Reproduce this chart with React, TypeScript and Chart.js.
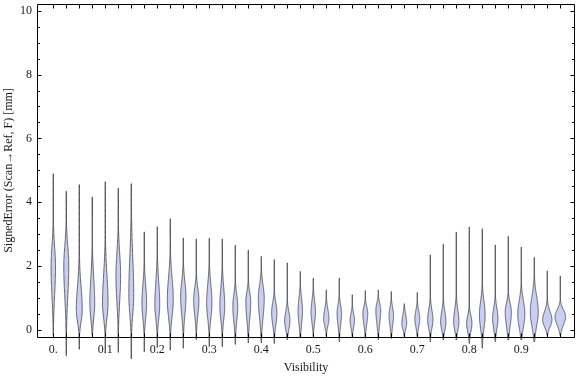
import React, { useEffect, useRef } from "react";
import { Chart, registerables } from "chart.js";

Chart.register(...registerables);

// Visibility bins (x positions of the violins)
const visibility = [
  0, 0.025, 0.05, 0.075, 0.1, 0.125, 0.15, 0.175, 0.2, 0.225,
  0.25, 0.275, 0.3, 0.325, 0.35, 0.375, 0.4, 0.425, 0.45, 0.475,
  0.5, 0.525, 0.55, 0.575, 0.6, 0.625, 0.65, 0.675, 0.7, 0.725,
  0.75, 0.775, 0.8, 0.825, 0.85, 0.875, 0.9, 0.925, 0.95, 0.975,
];

// Lowest signed error of each bin [mm]
const minErr = [
  -0.15, -0.8, -0.6, -0.15, -0.72, -0.7, -0.9, -0.68, -0.55, -0.63,
  -0.57, -0.3, -0.52, -0.52, -0.45, -0.4, -0.4, -0.42, -0.3, -0.25,
  -0.2, -0.2, -0.36, -0.22, -0.26, -0.3, -0.26, -0.2, -0.2, -0.37,
  -0.31, -0.31, -0.42, -0.57, -0.36, -0.31, -0.3, -0.36, -0.16, -0.16,
];

// Highest signed error of each bin [mm]
const maxErr = [
  4.89, 4.34, 4.55, 4.16, 4.64, 4.44, 4.58, 3.07, 3.23, 3.48,
  2.88, 2.85, 2.87, 2.85, 2.65, 2.5, 2.3, 2.2, 2.1, 1.83,
  1.62, 1.25, 1.62, 1.1, 1.23, 1.25, 1.2, 0.82, 1.17, 2.35,
  2.68, 3.06, 3.22, 3.17, 2.66, 2.93, 2.59, 2.27, 1.85, 1.69,
];

// Most frequent signed error (widest point of each violin) [mm]
const modeErr = [
  1.98, 2.0, 0.63, 0.84, 0.85, 1.7, 1.1, 0.84, 0.8, 0.94,
  1.05, 0.94, 0.84, 0.75, 0.75, 0.9, 1.0, 0.55, 0.3, 0.6,
  0.57, 0.36, 0.52, 0.31, 0.52, 0.63, 0.47, 0.21, 0.36, 0.31,
  0.26, 0.26, 0.21, 0.47, 0.37, 0.57, 0.5, 0.57, 0.31, 0.42,
];

// Lower end of the dense part of each distribution [mm]
const bodyLow = [
  0.21, 0.1, -0.1, -0.1, -0.1, 0.1, -0.1, -0.1, -0.1, -0.1,
  -0.1, 0.0, -0.1, -0.1, -0.2, -0.2, -0.2, -0.2, -0.26, -0.2,
  -0.1, -0.1, -0.21, -0.16, -0.16, -0.21, -0.21, -0.16, -0.16, -0.21,
  -0.26, -0.26, -0.31, -0.36, -0.31, -0.31, -0.31, -0.31, -0.1, -0.1,
];

// Upper end of the dense part of each distribution [mm]
const bodyHigh = [
  3.24, 3.24, 2.09, 2.4, 2.6, 3.1, 3.45, 1.98, 2.2, 2.3,
  1.98, 1.67, 1.98, 1.88, 1.46, 1.46, 1.78, 1.15, 0.84, 1.36,
  1.25, 0.94, 1.04, 0.73, 0.94, 1.04, 0.94, 0.73, 0.84, 0.94,
  0.89, 0.99, 0.68, 1.31, 0.99, 1.1, 1.31, 1.52, 0.84, 0.84,
];

// Relative peak density of each bin (1 = widest violin)
const peakDensity = [
  0.42, 0.47, 0.56, 0.46, 0.52, 0.44, 0.46, 0.44, 0.46, 0.56,
  0.5, 0.5, 0.5, 0.46, 0.46, 0.46, 0.56, 0.5, 0.5, 0.42,
  0.42, 0.5, 0.42, 0.42, 0.46, 0.46, 0.42, 0.46, 0.46, 0.5,
  0.5, 0.5, 0.5, 0.54, 0.5, 0.58, 0.67, 0.75, 0.88, 1.0,
];

const xTickValues = [0, 0.1, 0.2, 0.3, 0.4, 0.5, 0.6, 0.7, 0.8, 0.9];
const xTickLabels = ["0.", "0.1", "0.2", "0.3", "0.4", "0.5", "0.6", "0.7", "0.8", "0.9"];
const yTickValues = [0, 2, 4, 6, 8, 10];
const yMinorStep = 0.5;

const xTitle = "Visibility";
const yTitle = "SignedError (Scan\u2192Ref, F) [mm]";

const FONT = "'Liberation Serif', 'DejaVu Serif', serif";
const MAX_HALF_WIDTH = 0.0102; // in x-axis units, for density 1

type Violin = {
  x: number; y: number; min: number; max: number; lo: number; hi: number; d: number;
};

const violins: Violin[] = visibility.map((v, i) => ({
  x: v,
  y: modeErr[i],
  min: minErr[i],
  max: maxErr[i],
  lo: bodyLow[i],
  hi: bodyHigh[i],
  d: peakDensity[i],
}));

const violinPlugin = {
  id: "violins",
  afterDatasetsDraw(chart: any) {
    const { ctx, scales } = chart;
    const xs = scales.x;
    const ys = scales.y;
    const data = chart.data.datasets[0].data as Violin[];
    ctx.save();
    for (const p of data) {
      const cx = xs.getPixelForValue(p.x);
      const halfPx = xs.getPixelForValue(p.x + p.d * MAX_HALF_WIDTH) - cx;
      const n = 140;
      const right: [number, number][] = [];
      for (let k = 0; k <= n; k++) {
        const v = p.min + ((p.max - p.min) * k) / n;
        let t;
        if (v < p.y) t = (p.y - v) / Math.max(1e-6, p.y - p.lo);
        else t = (v - p.y) / Math.max(1e-6, p.hi - p.y);
        let w = halfPx * Math.exp(-2 * t * t);
        w = Math.max(w, 0.2);
        right.push([w, ys.getPixelForValue(v)]);
      }
      ctx.beginPath();
      right.forEach(([w, py], k) => {
        if (k === 0) ctx.moveTo(cx + w, py);
        else ctx.lineTo(cx + w, py);
      });
      for (let k = right.length - 1; k >= 0; k--) {
        const [w, py] = right[k];
        ctx.lineTo(cx - w, py);
      }
      ctx.closePath();
      ctx.fillStyle = "rgb(200,207,242)";
      ctx.fill();
      ctx.lineWidth = 0.9;
      ctx.strokeStyle = "rgba(50,50,55,0.8)";
      ctx.stroke();
    }
    ctx.restore();
  },
};

const framePlugin = {
  id: "frame",
  afterDraw(chart: any) {
    const { ctx, chartArea: a, scales } = chart;
    const xs = scales.x;
    const ys = scales.y;
    const L = Math.round(a.left) + 0.5;
    const R = Math.round(a.right) - 0.5;
    const T = Math.round(a.top) + 0.5;
    const B = Math.round(a.bottom) + 0.5;
    ctx.save();
    ctx.strokeStyle = "#000";
    ctx.lineWidth = 1;
    ctx.beginPath();
    ctx.rect(L, T, R - L, B - T);
    ctx.stroke();
    ctx.beginPath();
    for (const v of visibility) {
      const px = Math.round(xs.getPixelForValue(v)) + 0.5;
      ctx.moveTo(px, B);
      ctx.lineTo(px, B - 4);
      ctx.moveTo(px, T);
      ctx.lineTo(px, T + 4);
    }
    const yMax = yTickValues[yTickValues.length - 1];
    for (let v = yTickValues[0]; v <= yMax + 1e-9; v += yMinorStep) {
      const major = yTickValues.some((m) => Math.abs(m - v) < 1e-9);
      const len = major ? 4 : 2.5;
      const py = Math.round(ys.getPixelForValue(v)) + 0.5;
      ctx.moveTo(L, py);
      ctx.lineTo(L + len, py);
      ctx.moveTo(R, py);
      ctx.lineTo(R - len, py);
    }
    ctx.stroke();
    ctx.restore();
  },
};

export default function App() {
  const ref = useRef<HTMLCanvasElement>(null);
  useEffect(() => {
    document.body.style.margin = "0";
    const chart = new Chart(ref.current as HTMLCanvasElement, {
      type: "scatter",
      data: {
        datasets: [
          {
            data: violins as any,
            pointRadius: 0,
            showLine: false,
          },
        ],
      },
      options: {
        animation: false,
        responsive: false,
        devicePixelRatio: 1,
        layout: { padding: { top: 4, right: 1, left: 0, bottom: 0 } },
        plugins: {
          legend: { display: false },
          tooltip: { enabled: false },
        },
        scales: {
          x: {
            type: "linear",
            min: -0.0313,
            max: 1.0033,
            grid: { display: false, drawTicks: false },
            border: { display: false },
            afterBuildTicks: (s: any) => {
              s.ticks = xTickValues.map((v) => ({ value: v }));
            },
            afterFit: (s: any) => {
              s.height = 40;
              s.paddingLeft = 0;
              s.paddingRight = 0;
            },
            ticks: {
              autoSkip: false,
              maxRotation: 0,
              padding: 6,
              color: "#1a1a1a",
              font: { family: FONT, size: 12 },
              callback: (_v: any, i: number) => xTickLabels[i],
            },
            title: {
              display: true,
              text: xTitle,
              color: "#1a1a1a",
              font: { family: FONT, size: 12 },
              padding: { top: 0, bottom: 2 },
            },
          },
          y: {
            type: "linear",
            min: -0.22,
            max: 10.21,
            grid: { display: false, drawTicks: false },
            border: { display: false },
            afterBuildTicks: (s: any) => {
              s.ticks = yTickValues.map((v) => ({ value: v }));
            },
            afterFit: (s: any) => {
              s.width = 37;
              s.paddingTop = 0;
              s.paddingBottom = 0;
            },
            ticks: {
              padding: 5,
              color: "#1a1a1a",
              font: { family: FONT, size: 12 },
              callback: (v: any) => String(v),
            },
            title: {
              display: true,
              text: yTitle,
              color: "#1a1a1a",
              font: { family: FONT, size: 12 },
              padding: { top: 2, bottom: 0 },
            },
          },
        },
      },
      plugins: [violinPlugin, framePlugin],
    });
    return () => chart.destroy();
  }, []);
  return (
    <div style={{ width: 576, height: 377 }}>
      <canvas ref={ref} width={576} height={377} style={{ display: "block" }} />
    </div>
  );
}
